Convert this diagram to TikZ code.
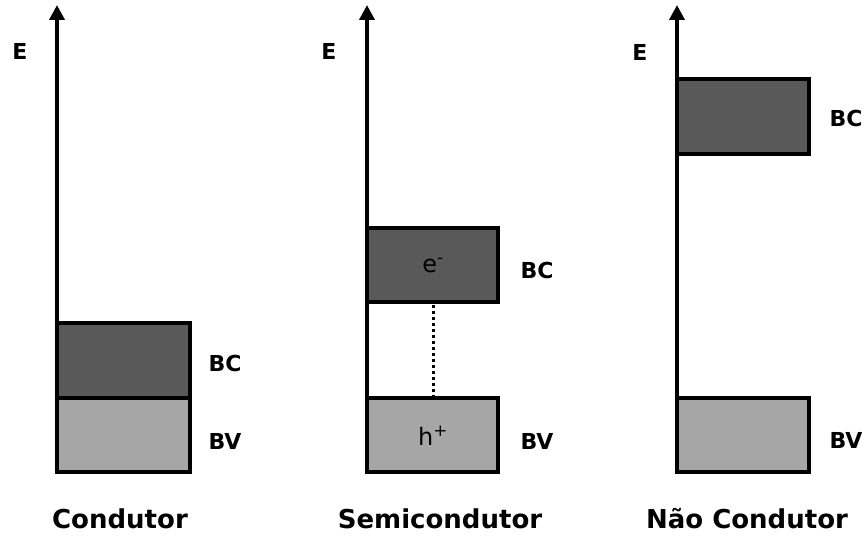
\documentclass[tikz,border=0pt]{standalone}
\usepackage{fontspec}
\setmainfont{DejaVu Sans}
\usetikzlibrary{arrows.meta}
\definecolor{bcfill}{HTML}{595959}
\definecolor{bvfill}{HTML}{A6A6A6}
\begin{document}
\begin{tikzpicture}[x=1pt,y=-1pt,
  axisline/.style={line width=4.5pt,-{Triangle[length=15pt,width=15pt]}},
  band/.style={draw=black,line width=4.5pt},
  lbl/.style={font=\fontsize{22}{24}\selectfont\bfseries,inner sep=0pt},
  title/.style={font=\fontsize{26}{28}\selectfont\bfseries,inner sep=0pt},
  carrier/.style={font=\fontsize{24}{26}\selectfont,inner sep=0pt}]
\useasboundingbox (0,0) rectangle (864,535);
% ---------- Panel 1: Condutor ----------
\coordinate (a1b) at (57,474);
\coordinate (a1t) at (57,5);
\draw[axisline] (a1b) -- (a1t);
\node[lbl] (e1) at (20,51) {E};
\draw[band,fill=bvfill] (57,398) rectangle (190,472);
\draw[band,fill=bcfill] (57,323) rectangle (190,398);
\node[lbl] (bc1) at (225,363) {BC};
\node[lbl] (bv1) at (225,441) {BV};
\node[title] (t1) at (120,519) {Condutor};
% ---------- Panel 2: Semicondutor ----------
\coordinate (a2b) at (367,474);
\coordinate (a2t) at (367,5);
\draw[axisline] (a2b) -- (a2t);
\node[lbl] (e2) at (329,51) {E};
\draw[band,fill=bcfill] (367,228) rectangle (498,302);
\draw[band,fill=bvfill] (367,398) rectangle (498,472);
\coordinate (d2t) at (433,305);
\coordinate (d2b) at (433,396);
\draw[line width=3pt,dash pattern=on 3pt off 3pt] (d2t) -- (d2b);
\node[carrier] (el) at (433,266) {e\textsuperscript{-}};
\node[carrier] (ho) at (433,436) {h\textsuperscript{+}};
\node[lbl] (bc2) at (537,270) {BC};
\node[lbl] (bv2) at (537,441) {BV};
\node[title] (t2) at (440,519) {Semicondutor};
% ---------- Panel 3: Nao Condutor ----------
\coordinate (a3b) at (677,474);
\coordinate (a3t) at (677,5);
\draw[axisline] (a3b) -- (a3t);
\node[lbl] (e3) at (640,52) {E};
\draw[band,fill=bcfill] (677,79) rectangle (809,154);
\draw[band,fill=bvfill] (677,398) rectangle (809,472);
\node[lbl] (bc3) at (846,118) {BC};
\node[lbl] (bv3) at (846,440) {BV};
\node[title] (t3) at (747,519) {Não Condutor};
\end{tikzpicture}
\end{document}
